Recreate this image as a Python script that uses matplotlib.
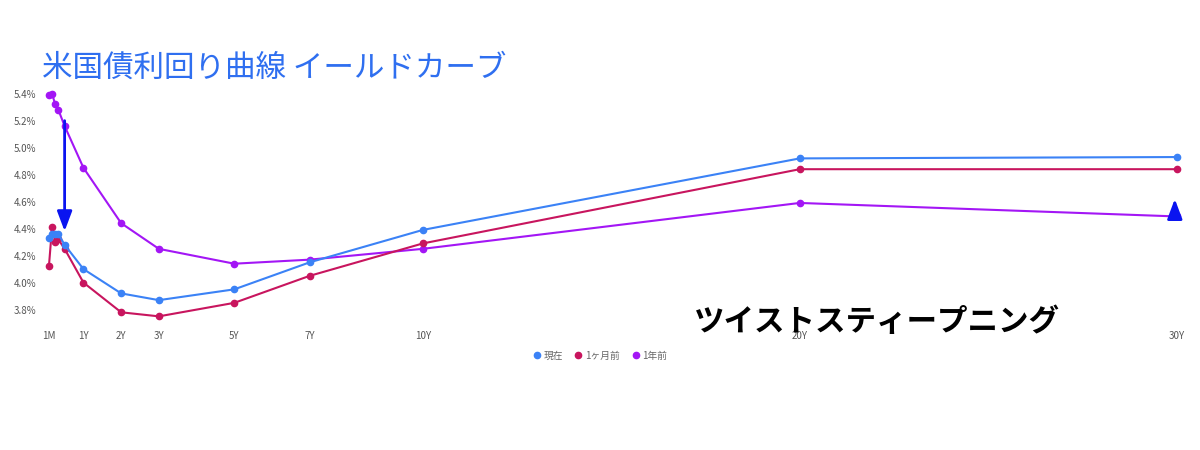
import matplotlib
matplotlib.use("Agg")
import matplotlib.pyplot as plt

plt.rcParams['font.family'] = ['Noto Sans CJK JP', 'DejaVu Sans']

tenors = [1/12, 2/12, 3/12, 4/12, 0.5, 1, 2, 3, 5, 7, 10, 20, 30]
tick_pos = [1/12, 1, 2, 3, 5, 7, 10, 20, 30]
tick_labels = ["1M", "1Y", "2Y", "3Y", "5Y", "7Y", "10Y", "20Y", "30Y"]
current = [4.33, 4.36, 4.36, 4.36, 4.28, 4.10, 3.92, 3.87, 3.95, 4.15, 4.39, 4.92, 4.93]
month_ago = [4.12, 4.41, 4.30, 4.32, 4.25, 4.00, 3.78, 3.75, 3.85, 4.05, 4.29, 4.84, 4.84]
year_ago = [5.39, 5.40, 5.32, 5.28, 5.16, 4.85, 4.44, 4.25, 4.14, 4.17, 4.25, 4.59, 4.49]
yticks = [3.8, 4.0, 4.2, 4.4, 4.6, 4.8, 5.0, 5.2, 5.4]

fig = plt.figure(figsize=(12, 4.5), dpi=100)
ax = fig.add_axes([0.035, 0.27, 0.955, 0.54])
ax.plot(tenors, current, '-o', color='#3b82f6', ms=4.5, lw=1.5, label='現在', zorder=3)
ax.plot(tenors, month_ago, '-o', color='#c8155e', ms=4.5, lw=1.5, label='1ヶ月前', zorder=2)
ax.plot(tenors, year_ago, '-o', color='#a316f5', ms=4.5, lw=1.5, label='1年前', zorder=1)
ax.set_xlim(-0.1, 30.3)
ax.set_ylim(3.66, 5.46)
ax.set_yticks(yticks)
ax.set_yticklabels([f"{v:.1f}%" for v in yticks])
ax.set_xticks(tick_pos)
ax.set_xticklabels(tick_labels)
ax.tick_params(length=0, labelsize=7, colors='#555555', pad=4)
ax.tick_params(axis='x', pad=2)
for s in ax.spines.values():
    s.set_visible(False)

ax.annotate('', xy=(0.5, 4.36), xytext=(0.5, 5.22),
            arrowprops=dict(arrowstyle='-|>,head_length=1.2,head_width=0.45', color='#0a14f0', lw=2))
ax.annotate('', xy=(29.95, 4.64), xytext=(29.95, 4.48),
            arrowprops=dict(arrowstyle='-|>,head_length=1.2,head_width=0.45', color='#0a14f0', lw=2))

fig.text(0.035, 0.83, '米国債利回り曲線 イールドカーブ', color='#2f6ff0', fontsize=22)
fig.text(0.578, 0.265, 'ツイストスティープニング', color='black', fontsize=22, fontweight='bold')

fig.legend(loc='center', bbox_to_anchor=(0.5, 0.21), ncol=3, frameon=False, fontsize=7,
           labelcolor='#666666', handlelength=0.8, handletextpad=0.3, columnspacing=1.2)
for h in fig.legends[0].legend_handles:
    h.set_linestyle('none')

fig.savefig('out.png', dpi=100, facecolor='white')
